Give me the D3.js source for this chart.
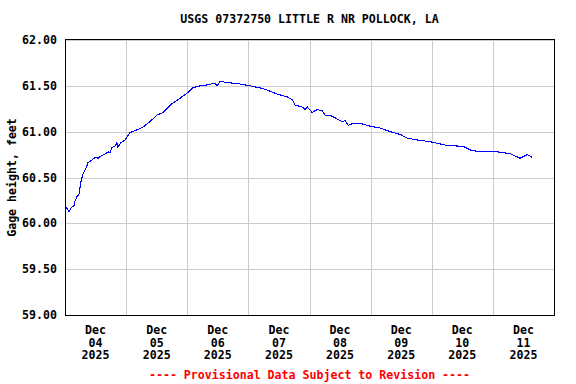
<!DOCTYPE html>
<html>
<head>
<meta charset="utf-8">
<script src="https://cdn.jsdelivr.net/npm/d3@7"></script>
<style>
  body { margin: 0; background: #fff; }
  text { font-family: "DejaVu Sans Mono", monospace; font-weight: bold; font-size: 11.6px; }
</style>
</head>
<body>
<div id="chart"></div>
<script>
// gage readings: hours since Dec 04 2025 00:00, height in feet
var hours = [0.4, 1.6, 2.4, 3.5, 3.9, 4.7, 5.5, 5.9, 6.3, 7.1, 8.2, 9.0, 10.6, 11.8, 13.0, 13.7,
  15.3, 16.9, 17.7, 18.5, 19.6, 20.4, 20.8, 22.0, 23.6, 25.5, 28.3, 30.6, 33.4, 36.1, 38.5,
  41.3, 44.4, 47.9, 50.3, 53.0, 55.8, 58.9, 59.7, 60.9, 62.8, 68.7, 72.7, 77.8, 83.3, 87.2,
  89.2, 90.3, 93.1, 94.3, 95.1, 97.0, 99.0, 101.0, 102.1, 104.1, 106.1, 108.8, 110.0, 111.2,
  113.1, 115.9, 119.8, 123.7, 127.7, 131.6, 134.3, 138.3, 143.4, 150.0, 156.3, 159.1, 163.0,
  169.7, 174.8, 178.7, 181.5, 183.5];
var gage = [60.18, 60.13, 60.17, 60.19, 60.24, 60.29, 60.32, 60.39, 60.46, 60.54, 60.60, 60.66,
  60.69, 60.72, 60.71, 60.73, 60.75, 60.78, 60.77, 60.83, 60.84, 60.88, 60.83, 60.88, 60.91,
  60.99, 61.02, 61.05, 61.11, 61.18, 61.21, 61.29, 61.35, 61.42, 61.48, 61.50, 61.51, 61.53,
  61.50, 61.55, 61.54, 61.52, 61.50, 61.47, 61.41, 61.38, 61.35, 61.29, 61.27, 61.24, 61.27,
  61.21, 61.24, 61.23, 61.18, 61.18, 61.15, 61.11, 61.12, 61.07, 61.09, 61.09, 61.06, 61.04,
  61.00, 60.97, 60.93, 60.91, 60.89, 60.85, 60.84, 60.80, 60.78, 60.78, 60.76, 60.71, 60.75,
  60.72];
var yTicks = [59.0, 59.5, 60.0, 60.5, 61.0, 61.5, 62.0];
var startDay = Date.UTC(2025, 11, 4);
var endDay = Date.UTC(2025, 11, 12);

var margin = { top: 40, right: 22, bottom: 69, left: 65 },
    width = 576 - margin.left - margin.right,
    height = 384 - margin.top - margin.bottom;

var svg = d3.select("#chart").append("svg")
    .attr("width", 576)
    .attr("height", 384);

var g = svg.append("g")
    .attr("transform", "translate(" + margin.left + "," + margin.top + ")");

var x = d3.scaleUtc().domain([startDay, endDay]).range([0, width]);
var y = d3.scaleLinear().domain([59, 62]).range([height, 0]);

var days = d3.utcDay.range(new Date(startDay), new Date(endDay + 1));

// grid
g.selectAll(".vgrid").data(days).enter().append("line")
    .attr("x1", function (d) { return Math.round(x(d)) + 0.5; })
    .attr("x2", function (d) { return Math.round(x(d)) + 0.5; })
    .attr("y1", 0).attr("y2", height)
    .attr("stroke", "#cccccc");

g.selectAll(".hgrid").data(yTicks).enter().append("line")
    .attr("x1", 0).attr("x2", width)
    .attr("y1", function (d) { return Math.round(y(d)) + 0.5; })
    .attr("y2", function (d) { return Math.round(y(d)) + 0.5; })
    .attr("stroke", "#cccccc");

// frame
g.append("rect")
    .attr("x", 0.5).attr("y", -0.5)
    .attr("width", width).attr("height", height + 1)
    .attr("fill", "none").attr("stroke", "#000");

// data line
var line = d3.line()
    .x(function (d, i) { return x(startDay + hours[i] * 3600000); })
    .y(function (d) { return y(d); });

g.append("path")
    .datum(gage)
    .attr("d", line)
    .attr("fill", "none")
    .attr("stroke", "#0000ff")
    .attr("stroke-width", 1.1)
    .attr("shape-rendering", "crispEdges");

// y labels
g.selectAll(".ylab").data(yTicks).enter().append("text")
    .attr("x", -8)
    .attr("y", function (d) { return y(d); })
    .attr("dy", "0.35em")
    .attr("text-anchor", "end")
    .text(function (d) { return d3.format(".2f")(d); });

// x labels, centred on each day
var labels = g.selectAll(".xlab").data(days.slice(0, -1)).enter().append("text")
    .attr("text-anchor", "middle")
    .attr("transform", function (d) {
        return "translate(" + x(d3.utcHour.offset(d, 12)) + "," + (height + 19) + ")";
    });
labels.append("tspan").attr("x", 0).attr("y", 0).text("Dec");
labels.append("tspan").attr("x", 0).attr("y", 12.5).text(d3.utcFormat("%d"));
labels.append("tspan").attr("x", 0).attr("y", 25).text(d3.utcFormat("%Y"));

// titles
svg.append("text")
    .attr("x", margin.left + width / 2)
    .attr("y", 23)
    .attr("text-anchor", "middle")
    .text("USGS 07372750 LITTLE R NR POLLOCK, LA");

svg.append("text")
    .attr("transform", "translate(16," + (margin.top + height / 2) + ") rotate(-90)")
    .attr("text-anchor", "middle")
    .text("Gage height, feet");

svg.append("text")
    .attr("x", margin.left + width / 2)
    .attr("y", 379)
    .attr("text-anchor", "middle")
    .attr("fill", "#ff0000")
    .text("---- Provisional Data Subject to Revision ----");
</script>
</body>
</html>
